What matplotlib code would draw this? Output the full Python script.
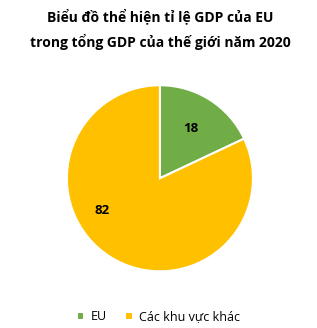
import matplotlib
matplotlib.use('Agg')
import matplotlib.pyplot as plt

matplotlib.rcParams['font.family'] = ['Open Sans', 'DejaVu Sans']

# data
labels = ['EU', 'Các khu vực khác']
values = [18, 82]
colors = ['#70AD47', '#FFC000']
title = 'Biểu đồ thể hiện tỉ lệ GDP của EU\ntrong tổng GDP của thế giới năm 2020'

fig = plt.figure(figsize=(3.17, 3.28), dpi=100)
ax = fig.add_axes([0.208, 0.17, 0.593, 0.573])

wedges, texts = ax.pie(values, colors=colors, startangle=90, counterclock=False,
                       wedgeprops={'edgecolor': 'white', 'linewidth': 1.5},
                       labels=[str(v) for v in values], labeldistance=0.63)
for t in texts:
    t.set_ha('center')
    t.set_va('center')
    t.set_fontsize(9.5)
    t.set_fontweight('bold')
# Excel put the big label off the wedge middle
texts[1].set_position((-0.62, -0.35))
ax.set_xlim(-1.01, 1.01)
ax.set_ylim(-1.01, 1.01)
ax.set_aspect('equal')

fig.text(0.505, 0.975, title, ha='center', va='top', fontsize=10,
         fontweight='bold', linespacing=1.75)

fig.legend(wedges, labels, loc='center', bbox_to_anchor=(0.5, 0.035),
           ncol=2, frameon=False, fontsize=9, handlelength=0.6,
           handleheight=0.6, handletextpad=0.5, columnspacing=1.5)

fig.savefig('out.png', dpi=100)
